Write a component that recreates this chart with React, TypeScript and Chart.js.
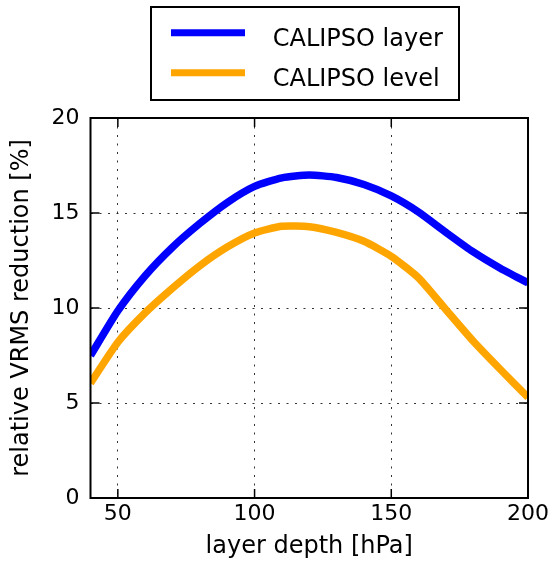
import React, { useEffect, useRef } from "react";
import { Chart, registerables } from "chart.js";

Chart.register(...registerables);

const depths = [40, 50, 60, 70, 80, 90, 100, 110, 120, 130, 140, 150, 160, 170, 180, 190, 200];
const layerValues = [7.5, 9.85, 11.7, 13.2, 14.45, 15.55, 16.4, 16.85, 17.0, 16.87, 16.5, 15.9, 15.05, 13.98, 12.95, 12.08, 11.32];
const levelValues = [6.05, 8.2, 9.75, 11.05, 12.23, 13.21, 13.95, 14.3, 14.28, 13.98, 13.51, 12.72, 11.58, 9.91, 8.25, 6.75, 5.3];
const seriesLabels = ["CALIPSO layer", "CALIPSO level"];
const xTicks = [50, 100, 150, 200];
const yTicks = [0, 5, 10, 15, 20];

const FONT = '"DejaVu Sans", sans-serif';

const framePlugin = {
  id: "frameAndLegend",
  afterDraw(chart: any) {
    const { ctx, chartArea: a, scales } = chart;
    const x = scales.x;
    const y = scales.y;
    ctx.save();
    ctx.strokeStyle = "#000";
    ctx.lineWidth = 1.5;
    const seg = (x1: number, y1: number, x2: number, y2: number) => {
      ctx.beginPath();
      ctx.moveTo(x1, y1);
      ctx.lineTo(x2, y2);
      ctx.stroke();
    };
    for (const v of xTicks) {
      const px = x.getPixelForValue(v);
      seg(px, a.bottom, px, a.bottom - 9);
      seg(px, a.top, px, a.top + 9);
    }
    for (const v of yTicks) {
      const py = y.getPixelForValue(v);
      seg(a.left, py, a.left + 9, py);
      seg(a.right, py, a.right - 9, py);
    }
    ctx.lineWidth = 2;
    ctx.strokeRect(a.left, a.top, a.right - a.left, a.bottom - a.top);

    // legend
    ctx.lineWidth = 2;
    ctx.strokeRect(151, 7, 308, 93);
    ctx.font = `24px ${FONT}`;
    ctx.textBaseline = "alphabetic";
    ctx.textAlign = "left";
    chart.data.datasets.forEach((ds: any, i: number) => {
      const ly = 32.7 + i * 40;
      ctx.strokeStyle = ds.borderColor;
      ctx.lineWidth = 7;
      ctx.lineCap = "butt";
      seg(171, ly, 245, ly);
      ctx.fillStyle = "#000";
      ctx.fillText(ds.label, 272.7, 45.7 + i * 40);
    });
    ctx.restore();
  },
};

export default function App() {
  const ref = useRef<HTMLCanvasElement | null>(null);
  useEffect(() => {
    if (!ref.current) return;
    const grid = {
      color: "rgba(0,0,0,0.8)",
      lineWidth: 1,
      drawTicks: false,
    };
    const chart = new Chart(ref.current, {
      type: "line",
      data: {
        datasets: [
          {
            label: seriesLabels[0],
            data: depths.map((d, i) => ({ x: d, y: layerValues[i] })),
            borderColor: "#0000ff",
            backgroundColor: "#0000ff",
            borderWidth: 7.5,
            pointRadius: 0,
            tension: 0.2,
            borderJoinStyle: "round",
          },
          {
            label: seriesLabels[1],
            data: depths.map((d, i) => ({ x: d, y: levelValues[i] })),
            borderColor: "#ffa500",
            backgroundColor: "#ffa500",
            borderWidth: 7.5,
            pointRadius: 0,
            tension: 0.2,
            borderJoinStyle: "round",
          },
        ],
      },
      options: {
        animation: false,
        responsive: false,
        maintainAspectRatio: false,
        layout: { padding: { top: 118, right: 23.5, left: 0, bottom: 0 } },
        plugins: {
          legend: { display: false },
          tooltip: { enabled: false },
        },
        scales: {
          x: {
            type: "linear",
            min: 40,
            max: 200,
            afterBuildTicks: (s: any) => {
              s.ticks = xTicks.map((v) => ({ value: v }));
            },
            afterFit: (s: any) => {
              s.height = 65;
            },
            grid,
            border: { display: false, dash: [2, 6.5] },
            ticks: {
              color: "#000",
              font: { family: FONT, size: 22 },
              padding: 3,
              maxRotation: 0,
              autoSkip: false,
            },
            title: {
              display: true,
              text: "layer depth [hPa]",
              color: "#000",
              font: { family: FONT, size: 24 },
              padding: { top: 0, bottom: 2 },
            },
          },
          y: {
            type: "linear",
            min: 0,
            max: 20,
            afterBuildTicks: (s: any) => {
              s.ticks = yTicks.map((v) => ({ value: v }));
            },
            afterFit: (s: any) => {
              s.width = 90.5;
            },
            grid,
            border: { display: false, dash: [2, 6.5] },
            ticks: {
              color: "#000",
              font: { family: FONT, size: 22 },
              padding: 11,
              autoSkip: false,
            },
            title: {
              display: true,
              text: "relative VRMS reduction [%]",
              color: "#000",
              font: { family: FONT, size: 24 },
              padding: { top: 7.2, bottom: 0 },
            },
          },
        },
      },
      plugins: [framePlugin],
    } as any);
    return () => chart.destroy();
  }, []);
  return (
    <div style={{ position: "fixed", left: 0, top: 0, width: 552, height: 563, background: "#fff" }}>
      <canvas ref={ref} width={552} height={563} style={{ display: "block", width: 552, height: 563 }} />
    </div>
  );
}
